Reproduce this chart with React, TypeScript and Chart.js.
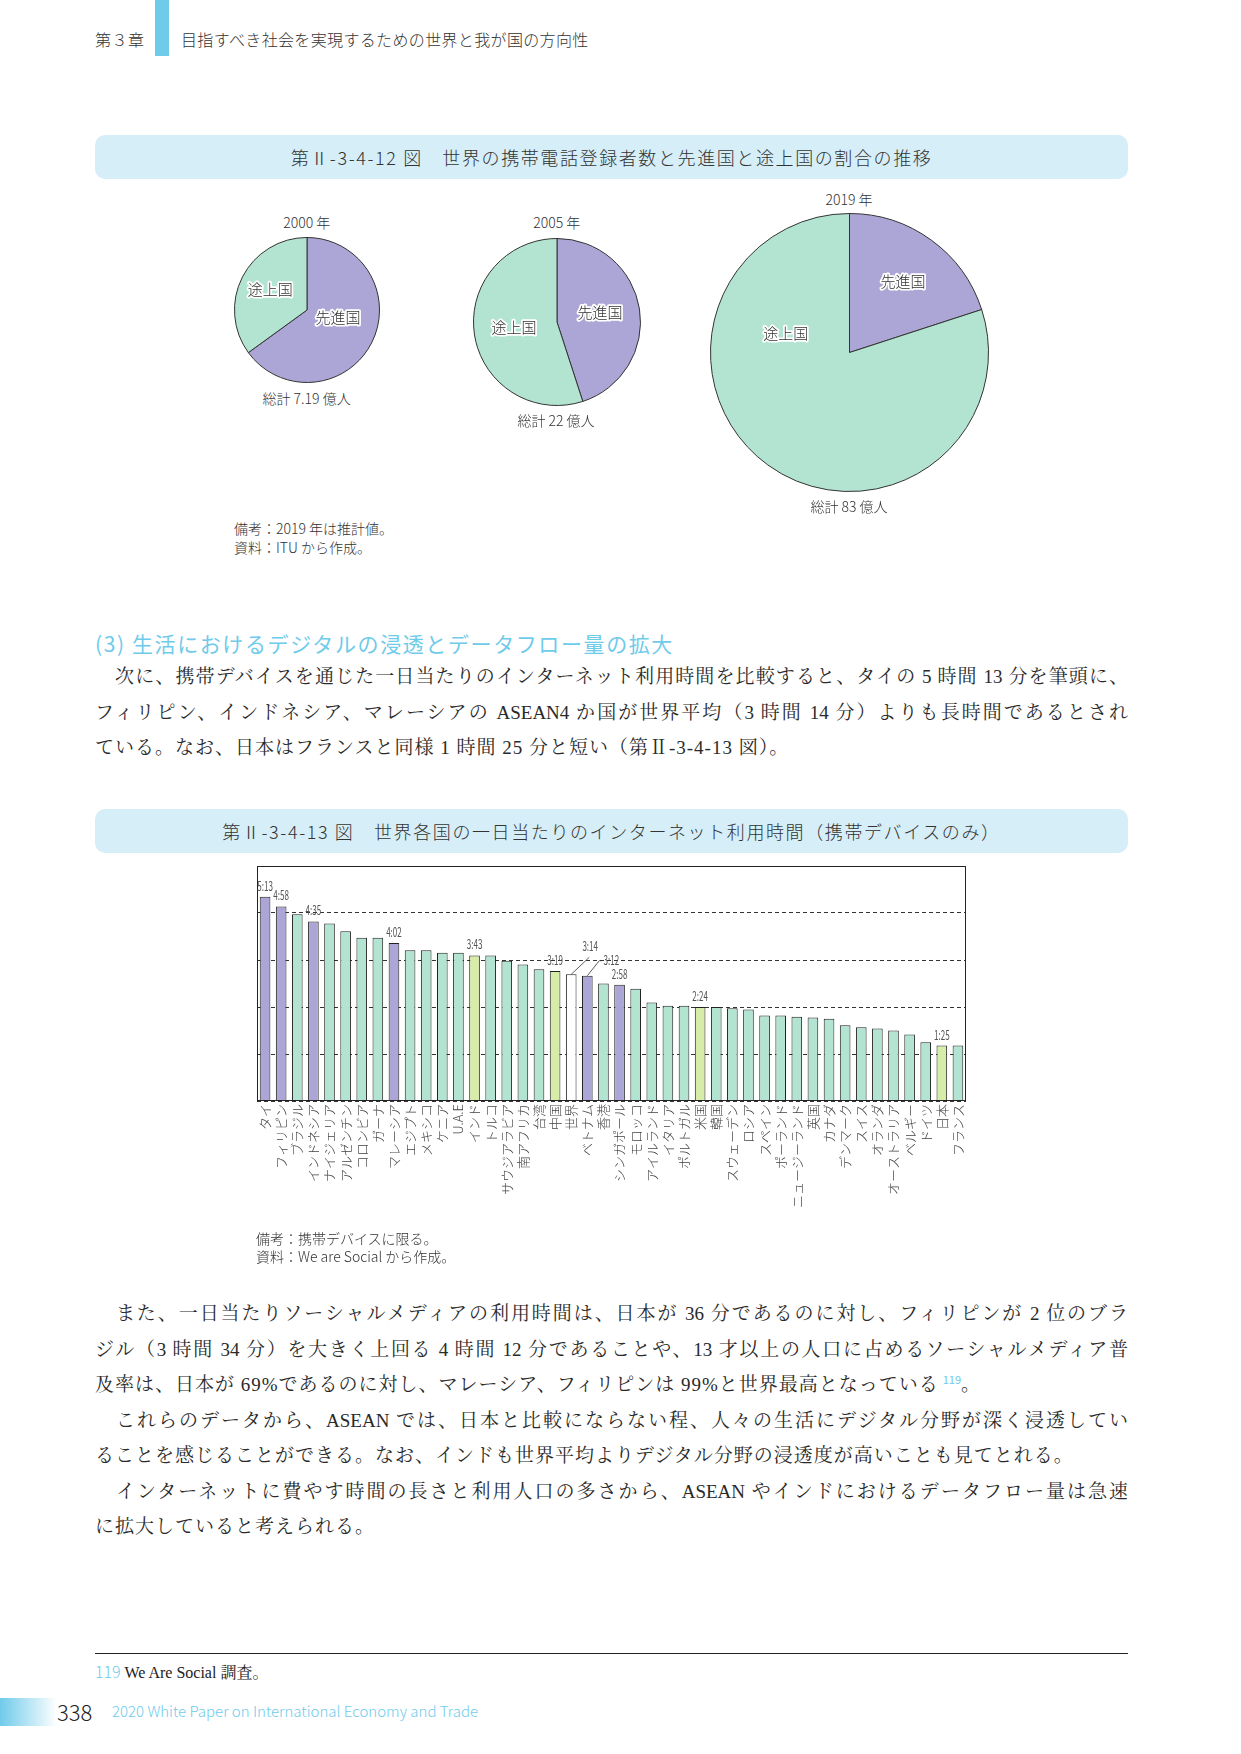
import React, { useEffect, useRef } from "react";
import { Chart, registerables } from "chart.js";

Chart.register(...registerables);

// ---------------- data ----------------
const PIE_SEGMENTS = ["先進国", "途上国"];
const PIE_YEARS = ["2000 年", "2005 年", "2019 年"];
const PIE_TOTALS = ["総計 7.19 億人", "総計 22 億人", "総計 83 億人"];
const SHARE_DEVELOPED = [65, 45, 20];
const SHARE_DEVELOPING = [35, 55, 80];

const COUNTRIES = [
  "タイ", "フィリピン", "ブラジル", "インドネシア", "ナイジェリア", "アルゼンチン", "コロンビア", "ガーナ",
  "マレーシア", "エジプト", "メキシコ", "ケニア", "U.A.E", "インド", "トルコ", "サウジアラビア", "南アフリカ",
  "台湾", "中国", "世界", "ベトナム", "香港", "シンガポール", "モロッコ", "アイルランド", "イタリア", "ポルトガル",
  "米国", "韓国", "スウェーデン", "ロシア", "スペイン", "ポーランド", "ニュージーランド", "英国", "カナダ",
  "デンマーク", "スイス", "オランダ", "オーストラリア", "ベルギー", "ドイツ", "日本", "フランス",
];
// minutes per day
const MINUTES = [
  313, 298, 286, 275, 272, 260, 250, 250,
  242, 231, 231, 227, 227, 223, 223, 215, 209,
  202, 199, 194, 192, 180, 178, 172, 151, 146, 146,
  144, 144, 142, 140, 131, 131, 129, 128, 126,
  116, 113, 111, 108, 102, 90, 85, 85,
];
// a = ASEAN, f = highlighted, w = world, o = other
const GROUPS = [
  "a", "a", "o", "a", "o", "o", "o", "o",
  "a", "o", "o", "o", "o", "f", "o", "o", "o",
  "o", "f", "w", "a", "o", "a", "o", "o", "o", "o",
  "f", "o", "o", "o", "o", "o", "o", "o", "o",
  "o", "o", "o", "o", "o", "o", "f", "o",
];
const LABELED = [0, 1, 3, 8, 13, 18, 19, 20, 22, 27, 42];
const Y_TICKS = [0, 72, 144, 216, 288, 360];

// ---------------- styles ----------------
const SANS = '"Noto Sans CJK JP", "Noto Sans", sans-serif';
const SERIF = '"Liberation Serif", "Noto Serif CJK JP", "Noto Sans CJK JP", serif';
const BLUE = "#6FCBEA";
const BOX = "#D6EEF8";
const PURPLE = "#ACA6D6";
const GREEN = "#B3E4D1";
const YELLOW = "#D7ECA8";
const GROUP_COLORS: Record<string, string> = { a: PURPLE, o: GREEN, f: YELLOW, w: "#FFFFFF" };

const fmt = (m: number) => `${Math.floor(m / 60)}:${String(m % 60).padStart(2, "0")}`;

// label placement for leader-lined labels: label centre offset and leader end offset
const LEADERS: Record<number, { dx: number; dy: number; lx: number; ly: number; tick?: boolean }> = {
  19: { dx: 19, dy: -28, lx: 18, ly: -17 },
  20: { dx: 24, dy: -16, lx: 12, ly: -15, tick: true },
};

const framePlugin = {
  id: "frame",
  afterDatasetsDraw(chart: any) {
    const { ctx, chartArea: a } = chart;
    ctx.save();
    ctx.strokeStyle = "#222";
    ctx.lineWidth = 1;
    ctx.strokeRect(Math.round(a.left) + 0.5, Math.round(a.top) + 0.5, Math.round(a.right - a.left) - 1, Math.round(a.bottom - a.top) - 1);
    ctx.restore();
  },
};

const valueLabelPlugin = {
  id: "valueLabels",
  afterDatasetsDraw(chart: any) {
    const { ctx } = chart;
    const meta = chart.getDatasetMeta(0);
    ctx.save();
    ctx.fillStyle = "#555";
    ctx.strokeStyle = "#333";
    ctx.lineWidth = 0.8;
    ctx.font = `13px ${SANS}`;
    ctx.textAlign = "center";
    ctx.textBaseline = "alphabetic";
    LABELED.forEach((i) => {
      const bar = meta.data[i];
      const { x, y } = bar.getProps(["x", "y"], true);
      const text = fmt(MINUTES[i]);
      const lead = LEADERS[i];
      let cx = x;
      let by = y - 6;
      if (lead) {
        cx = x + lead.dx;
        by = y + lead.dy + 5;
        ctx.beginPath();
        ctx.moveTo(x, y);
        ctx.lineTo(x + lead.lx, y + lead.ly);
        if (lead.tick) ctx.lineTo(x + lead.lx + 3, y + lead.ly);
        ctx.stroke();
      }
      ctx.save();
      ctx.translate(cx, by);
      ctx.scale(0.62, 1);
      ctx.fillText(text, 0, 0);
      ctx.restore();
    });
    ctx.restore();
  },
};

function BarChart() {
  const ref = useRef<HTMLCanvasElement>(null);
  useEffect(() => {
    const chart = new Chart(ref.current as HTMLCanvasElement, {
      type: "bar",
      data: {
        labels: COUNTRIES,
        datasets: [
          {
            data: MINUTES,
            backgroundColor: GROUPS.map((g) => GROUP_COLORS[g]),
            borderColor: "#222",
            borderWidth: 1,
            barPercentage: 0.66,
            categoryPercentage: 1,
          },
        ],
      },
      options: {
        animation: false,
        responsive: false,
        layout: { padding: { left: 10, right: 11, top: 10, bottom: 0 } },
        plugins: { legend: { display: false }, tooltip: { enabled: false } },
        scales: {
          x: {
            grid: { display: false, drawTicks: false },
            border: { display: false },
            ticks: {
              autoSkip: false,
              maxRotation: 90,
              minRotation: 90,
              padding: 3,
              color: "#444",
              font: { family: SANS, size: 13, weight: "300" as any },
            },
            afterFit: (s: any) => {
              s.height = 125;
            },
          },
          y: {
            min: 0,
            max: 360,
            afterBuildTicks: (s: any) => {
              s.ticks = Y_TICKS.map((v) => ({ value: v }));
            },
            ticks: { display: false },
            grid: { color: "#333", lineWidth: 1, drawTicks: false },
            border: { display: false, dash: [4, 3] },
            afterFit: (s: any) => {
              s.width = 0;
            },
          },
        },
      } as any,
      plugins: [framePlugin, valueLabelPlugin],
    });
    return () => chart.destroy();
  }, []);
  return (
    <canvas
      ref={ref}
      width={730}
      height={370}
      style={{ position: "absolute", left: 247, top: 856, width: 730, height: 370 }}
    />
  );
}

const PIE_PLACEMENTS = [
  [[104, 0.44], [299, 0.58]],
  [[77, 0.53], [263, 0.52]],
  [[37, 0.64], [287, 0.48]],
];

function PieChart({ idx, cx, cy, r }: { idx: number; cx: number; cy: number; r: number }) {
  const ref = useRef<HTMLCanvasElement>(null);
  const size = Math.round(2 * r + 5);
  useEffect(() => {
    const placement = PIE_PLACEMENTS[idx];
    const labelPlugin = {
      id: "pieLabels",
      afterDatasetsDraw(chart: any) {
        const { ctx } = chart;
        const meta = chart.getDatasetMeta(0);
        ctx.save();
        ctx.font = `300 15px ${SANS}`;
        ctx.textAlign = "center";
        ctx.textBaseline = "middle";
        meta.data.forEach((arc: any, i: number) => {
          const { x, y, outerRadius } = arc.getProps(["x", "y", "outerRadius"], true);
          const [deg, frac] = placement[i];
          const a = ((deg - 90) * Math.PI) / 180;
          const px = x + Math.cos(a) * outerRadius * frac;
          const py = y + Math.sin(a) * outerRadius * frac;
          const label = chart.data.labels[i];
          ctx.lineJoin = "round";
          ctx.lineWidth = 3.5;
          ctx.strokeStyle = "#fff";
          ctx.strokeText(label, px, py);
          ctx.fillStyle = "#333";
          ctx.fillText(label, px, py);
        });
        ctx.restore();
      },
    };
    const chart = new Chart(ref.current as HTMLCanvasElement, {
      type: "pie",
      data: {
        labels: PIE_SEGMENTS,
        datasets: [
          {
            data: [SHARE_DEVELOPED[idx], SHARE_DEVELOPING[idx]],
            backgroundColor: [PURPLE, GREEN],
            borderColor: "#333",
            borderWidth: 1,
          },
        ],
      },
      options: {
        animation: false,
        responsive: false,
        layout: { padding: 2 },
        plugins: { legend: { display: false }, tooltip: { enabled: false } },
      } as any,
      plugins: [labelPlugin],
    });
    return () => chart.destroy();
  }, [idx]);
  return (
    <canvas
      ref={ref}
      width={size}
      height={size}
      style={{ position: "absolute", left: cx - size / 2, top: cy - size / 2, width: size, height: size }}
    />
  );
}

// ---------------- text helpers ----------------
function T({
  x, y, w, h = 26, size = 14, align = "left", color = "#333", family = SANS, weight = 300, ls = 0, children, justify = false,
}: any) {
  const style: any = {
    position: "absolute",
    left: x,
    top: y - h / 2,
    height: h,
    lineHeight: `${h}px`,
    fontSize: size,
    color,
    fontFamily: family,
    fontWeight: weight,
    letterSpacing: ls,
    textAlign: justify ? "justify" : align,
    whiteSpace: justify ? "normal" : "nowrap",
  };
  if (w !== undefined) style.width = w;
  if (justify) style.textAlignLast = "justify";
  return <div style={style}>{children}</div>;
}

function TitleBox({ top, children }: any) {
  return (
    <div
      style={{
        position: "absolute",
        left: 95,
        top,
        width: 1033,
        height: 44,
        borderRadius: 10,
        background: BOX,
        display: "flex",
        alignItems: "center",
        justifyContent: "center",
        fontFamily: SANS,
        fontWeight: 300,
        fontSize: 18,
        letterSpacing: 1.6,
        color: "#333",
        whiteSpace: "nowrap",
      }}
    >
      {children}
    </div>
  );
}

const P_SIZE = 19;

export default function App() {
  const pl = (y: number, text: any, justify = true) => (
    <T x={95} y={y} w={1033} h={32} size={P_SIZE} family={SERIF} weight={400} color="#2a2a2a" ls={justify ? 0 : 1} justify={justify}>
      {text}
    </T>
  );
  return (
    <div
      style={{
        position: "absolute",
        left: 0,
        top: 0,
        width: 1241,
        height: 1754,
        background: "#fff",
        overflow: "hidden",
      }}
    >
      {/* header */}
      <T x={95} y={39} size={16} ls={0.5}>第３章</T>
      <div style={{ position: "absolute", left: 155, top: 0, width: 14, height: 56, background: BLUE }} />
      <T x={181} y={39} size={16} ls={0.35}>目指すべき社会を実現するための世界と我が国の方向性</T>

      {/* figure 1 */}
      <TitleBox top={135}>第Ⅱ-3-4-12 図　世界の携帯電話登録者数と先進国と途上国の割合の推移</TitleBox>

      <T x={206.7} y={222} w={200} align="center">{PIE_YEARS[0]}</T>
      <T x={456.7} y={222} w={200} align="center">{PIE_YEARS[1]}</T>
      <T x={749} y={199} w={200} align="center">{PIE_YEARS[2]}</T>

      <PieChart idx={0} cx={306.8} cy={310.2} r={72.5} />
      <PieChart idx={1} cx={556.7} cy={321.7} r={83.3} />
      <PieChart idx={2} cx={849.5} cy={352.5} r={139} />

      <T x={206.6} y={398} w={200} align="center">{PIE_TOTALS[0]}</T>
      <T x={456} y={420} w={200} align="center">{PIE_TOTALS[1]}</T>
      <T x={749} y={506} w={200} align="center">{PIE_TOTALS[2]}</T>

      <T x={234} y={528} size={14}>備考：2019 年は推計値。</T>
      <T x={234} y={547} size={14}>資料：ITU から作成。</T>

      {/* section heading */}
      <T x={95} y={643} size={21} color={BLUE} weight={400} ls={1.6} h={32}>(3) 生活におけるデジタルの浸透とデータフロー量の拡大</T>

      {pl(677, "　次に、携帯デバイスを通じた一日当たりのインターネット利用時間を比較すると、タイの 5 時間 13 分を筆頭に、")}
      {pl(713, "フィリピン、インドネシア、マレーシアの ASEAN4 か国が世界平均（3 時間 14 分）よりも長時間であるとされ")}
      {pl(748, "ている。なお、日本はフランスと同様 1 時間 25 分と短い（第Ⅱ-3-4-13 図）。", false)}

      {/* figure 2 */}
      <TitleBox top={809}>第Ⅱ-3-4-13 図　世界各国の一日当たりのインターネット利用時間（携帯デバイスのみ）</TitleBox>
      <BarChart />
      <T x={256} y={1238} size={14}>備考：携帯デバイスに限る。</T>
      <T x={256} y={1256} size={14}>資料：We are Social から作成。</T>

      {pl(1314, "　また、一日当たりソーシャルメディアの利用時間は、日本が 36 分であるのに対し、フィリピンが 2 位のブラ")}
      {pl(1349.5, "ジル（3 時間 34 分）を大きく上回る 4 時間 12 分であることや、13 才以上の人口に占めるソーシャルメディア普")}
      {pl(
        1385,
        <>
          及率は、日本が 69%であるのに対し、マレーシア、フィリピンは 99%と世界最高となっている
          <span style={{ color: BLUE, fontSize: 11, position: "relative", top: -7, fontFamily: SANS, letterSpacing: 0, marginLeft: 4 }}>119</span>。
        </>,
        false
      )}
      {pl(1420.5, "　これらのデータから、ASEAN では、日本と比較にならない程、人々の生活にデジタル分野が深く浸透してい")}
      {pl(1456, "ることを感じることができる。なお、インドも世界平均よりデジタル分野の浸透度が高いことも見てとれる。", false)}
      {pl(1491.5, "　インターネットに費やす時間の長さと利用人口の多さから、ASEAN やインドにおけるデータフロー量は急速")}
      {pl(1527, "に拡大していると考えられる。", false)}

      {/* footnote */}
      <div style={{ position: "absolute", left: 95, top: 1652.5, width: 1033, height: 1, background: "#222" }} />
      <T x={95} y={1671} size={16} family={SERIF} weight={400} color="#222">
        <span style={{ color: BLUE, fontFamily: SANS, fontWeight: 300 }}>119</span> We Are Social 調査。
      </T>

      {/* footer */}
      <div
        style={{
          position: "absolute",
          left: 0,
          top: 1698,
          width: 57,
          height: 28,
          background: `linear-gradient(to right, ${BLUE}, #ffffff)`,
        }}
      />
      <T x={57} y={1711} size={22} weight={300} color="#222" h={30}>338</T>
      <T x={112} y={1711} size={15} weight={300} color={BLUE} h={30}>2020 White Paper on International Economy and Trade</T>
    </div>
  );
}
